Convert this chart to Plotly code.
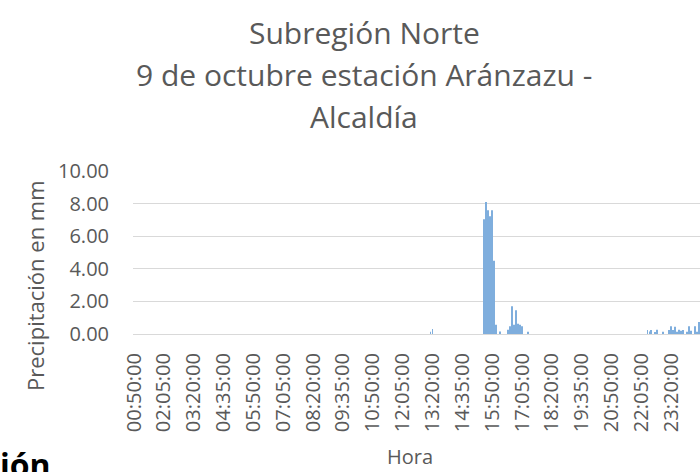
import plotly.graph_objects as go

# Category axis: 5-minute readings starting at 00:50:00 (288 readings)
start_minute = 50
n_categories = 288
categories = []
for k in range(n_categories):
    m = (start_minute + 5 * k) % (24 * 60)
    categories.append(f"{m // 60:02d}:{m % 60:02d}:00")

tick_labels = categories[::15]

# Non-zero precipitation readings (mm)
rain_times = [
    "13:15:00", "13:20:00",
    "15:30:00", "15:35:00", "15:40:00", "15:45:00", "15:50:00", "15:55:00", "16:00:00",
    "16:10:00",
    "16:30:00", "16:35:00", "16:40:00", "16:45:00", "16:50:00", "16:55:00", "17:00:00",
    "17:05:00", "17:20:00",
    "22:20:00", "22:25:00", "22:30:00", "22:40:00", "22:45:00", "23:00:00",
    "23:15:00", "23:20:00", "23:25:00", "23:30:00", "23:35:00", "23:40:00", "23:45:00",
    "23:50:00", "00:00:00", "00:05:00", "00:10:00", "00:20:00", "00:25:00", "00:30:00",
]
rain_mm = [
    0.14, 0.30,
    7.04, 8.10, 7.59, 7.23, 7.59, 4.50, 0.57,
    0.15,
    0.26, 0.47, 1.70, 0.57, 1.45, 0.63, 0.57,
    0.47, 0.14,
    0.24, 0.16, 0.24, 0.12, 0.26, 0.14,
    0.24, 0.47, 0.24, 0.45, 0.14, 0.26, 0.20, 0.24,
    0.14, 0.47, 0.20, 0.47, 0.14, 0.73,
]

W, H = 700, 472
plot_top, plot_bottom = 171, 334
ph = plot_bottom - plot_top
def py(pix):
    return (plot_bottom - pix) / ph
def px(pix):
    return (pix - 133) / (W - 133)

gray = "#595959"
grid = "#d9d9d9"
font = "Open Sans"

fig = go.Figure()
fig.add_trace(go.Bar(x=rain_times, y=rain_mm, marker=dict(color="#7FAEDD", line=dict(width=0)),
                     showlegend=False, hoverinfo="skip"))

fig.update_layout(
    width=W, height=H,
    margin=dict(l=133, r=0, t=plot_top, b=H - plot_bottom),
    paper_bgcolor="white", plot_bgcolor="white",
    bargap=0.55,
    font=dict(family=font, color=gray, size=20),
)
fig.update_xaxes(
    type="category", categoryorder="array", categoryarray=categories,
    range=[-0.5, 284.4],
    tickmode="array", tickvals=tick_labels, ticktext=tick_labels,
    tickangle=-90, tickfont=dict(size=20, color=gray, family=font),
    ticks="outside", ticklen=10, tickcolor="rgba(0,0,0,0)",
    showline=True, linecolor=grid, linewidth=1,
    showgrid=False, zeroline=False,
)
fig.update_yaxes(
    range=[0, 10], dtick=2, tick0=0, tickformat=".2f",
    tickfont=dict(size=20, color=gray, family=font),
    ticks="outside", ticklen=19, tickcolor="rgba(0,0,0,0)",
    showgrid=True, gridcolor=grid, gridwidth=1,
    zeroline=False, showline=False,
)

title_lines = ["Subregión Norte", "9 de octubre estación Aránzazu -", "Alcaldía"]
title_y = [32, 74, 116]
for t, yp in zip(title_lines, title_y):
    fig.add_annotation(text=t, xref="paper", yref="paper", x=px(364), y=py(yp),
                       xanchor="center", yanchor="middle", showarrow=False,
                       font=dict(size=30, color=gray, family=font))

fig.add_annotation(text="Precipitación en mm", xref="paper", yref="paper",
                   x=px(35), y=py(286), xanchor="center", yanchor="middle",
                   textangle=-90, showarrow=False,
                   font=dict(size=22, color=gray, family=font))
fig.add_annotation(text="Hora", xref="paper", yref="paper",
                   x=px(410), y=py(456), xanchor="center", yanchor="middle",
                   showarrow=False, font=dict(size=20, color=gray, family=font))
fig.add_annotation(text="<b>ión</b>", xref="paper", yref="paper",
                   x=px(-2), y=py(464), xanchor="left", yanchor="middle",
                   showarrow=False, font=dict(size=32, color="black", family=font))

fig.write_html("out.html", config={"displayModeBar": False},
               post_script="document.body.style.margin='0px';document.body.style.overflow='hidden';")
